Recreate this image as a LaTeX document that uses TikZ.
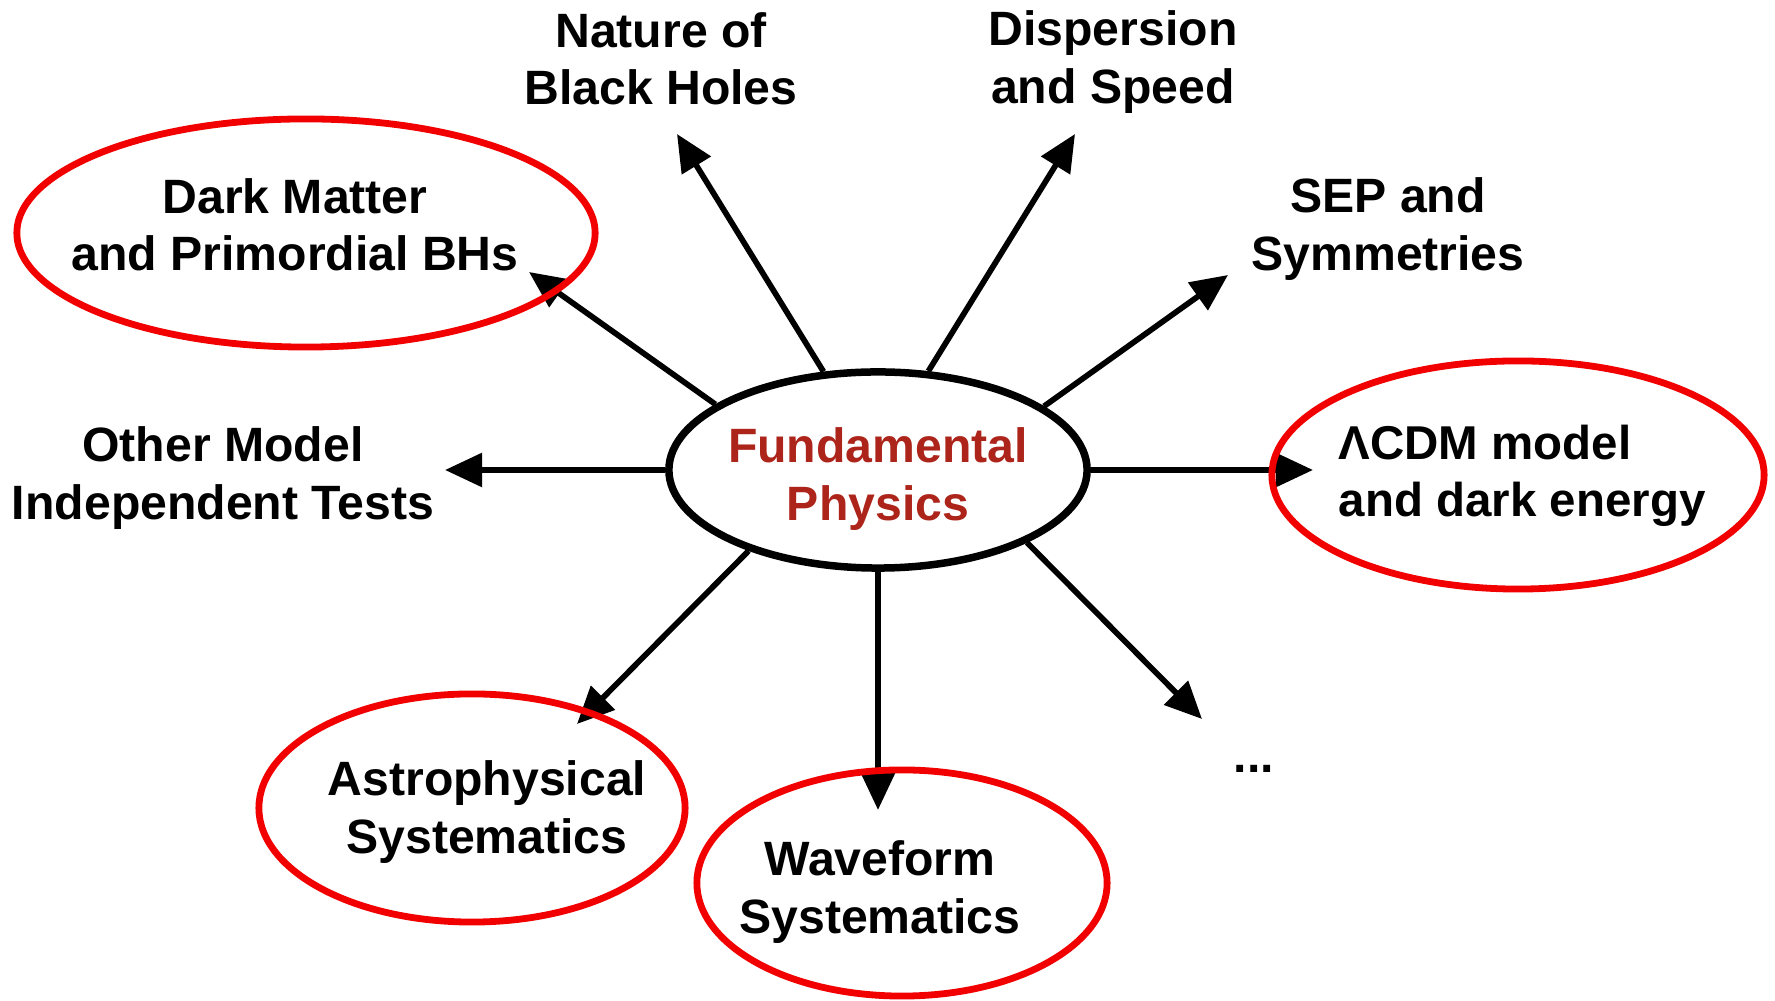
\documentclass[tikz,border=0pt]{standalone}
\usepackage{fontspec}
\setmainfont{Liberation Sans}
\usetikzlibrary{shapes.geometric,arrows.meta}
\definecolor{fundred}{RGB}{172,36,26}
\definecolor{ringred}{RGB}{242,0,0}
\begin{document}
\begin{tikzpicture}[x=0.01cm,y=-0.01cm,
  lbl/.style={font=\bfseries\fontsize{13.7}{16.3}\selectfont, align=center, inner sep=0pt},
  ring/.style={ellipse, draw=ringred, line width=0.068cm, inner sep=0pt},
  arr/.style={line width=0.057cm, -{Triangle[length=0.37cm,width=0.33cm]}},
]
\useasboundingbox[fill=white] (0,0) rectangle (1775,1001);

% hub
\node[ellipse, draw, line width=0.075cm, minimum width=4.18cm, minimum height=1.96cm,
      inner sep=0pt] (fp) at (878,470) {};
\node[lbl, text=fundred] (fptxt) at (878,479) {Fundamental\\Physics};

% labels
\node[lbl] (nat) at (661,59) {Nature of\\Black Holes};
\node[lbl] (dis) at (1113,62) {Dispersion\\and Speed};
\node[lbl] (sep) at (1388,229) {SEP and\\Symmetries};
\node[lbl] (dm) at (295,225) {Dark Matter\\and Primordial BHs};
\node[lbl] (oth) at (223,478) {Other Model\\Independent Tests};
\node[lbl, anchor=west, align=left, font=\bfseries\fontsize{13.5}{16.2}\selectfont] (lcdm) at (1338,476) {ΛCDM model\\and dark energy};
\node[lbl] (ast) at (487,812) {Astrophysical\\Systematics};
\node[lbl] (wav) at (880,892) {Waveform\\Systematics};
\node[lbl] (dots) at (1254,769) {...};

% arrow tips
\coordinate (t1) at (677,134);
\coordinate (t2) at (1075,134);
\coordinate (t3) at (1228,275);
\coordinate (t4) at (529,272);
\coordinate (t5) at (445,470);
\coordinate (t6) at (1313,470);
\coordinate (t7) at (577,724);
\coordinate (t8) at (878,810);
\coordinate (t9) at (1202,719);

\draw[arr] (fp.119.5) -- (t1);
\draw[arr] (fp.63.2) -- (t2);
\draw[arr] (fp.21.6) -- (t3);
\draw[arr] (fp.158.3) -- (t4);
\draw[arr] (fp.180) -- (t5);
\draw[arr] (fp.0) -- (t6);
\draw[arr] (fp.212) -- (t7);
\draw[arr] (fp.270) -- (t8);
\draw[arr] (fp.334) -- (t9);

% red rings
\node[ring, minimum width=5.78cm, minimum height=2.28cm] (r1) at (306,233) {};
\node[ring, minimum width=4.92cm, minimum height=2.28cm] (r2) at (1518,475) {};
\node[ring, minimum width=4.26cm, minimum height=2.28cm] (r3) at (472,808) {};
\node[ring, minimum width=4.10cm, minimum height=2.26cm] (r4) at (902,883) {};
\end{tikzpicture}
\end{document}
